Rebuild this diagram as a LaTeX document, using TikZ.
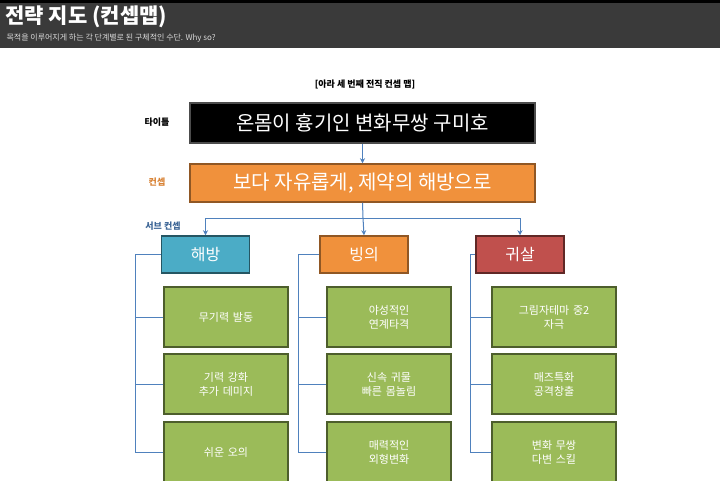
\documentclass[tikz,border=0pt]{standalone}
\usepackage{fontspec}
\setmainfont{Noto Sans CJK KR}
\usetikzlibrary{arrows.meta,positioning}
\definecolor{hdr}{HTML}{3A3A3A}
\definecolor{lnk}{HTML}{4F81BD}
\definecolor{org}{HTML}{F0913C}
\definecolor{grn}{HTML}{9BBB59}
\definecolor{sky}{HTML}{4BACC6}
\definecolor{rd}{HTML}{C0504D}
\tikzset{
  box/.style={draw, line width=1.5pt, text=white, inner sep=0pt},
  leaf/.style={box, fill=grn, draw=grn!50!black, text width=124pt, align=center, font=\fontsize{11}{14}\selectfont},
  sub/.style={box, minimum width=88pt, minimum height=37pt, font=\fontsize{16}{18}\selectfont},
  link/.style={lnk, line width=1pt},
  tip/.style={link, -{Stealth[length=5pt,width=5pt]}}
}
\begin{document}
\begin{tikzpicture}[x=1pt,y=-1pt]
\useasboundingbox (0,0) rectangle (720,480);
\clip (0,0) rectangle (720,480);
\fill[hdr] (0,0) rectangle (720,48);
\fill[black] (0,0) rectangle (720,3);
\node[anchor=west, text=white, font=\bfseries\fontsize{21}{22}\selectfont] (hd) at (2,17) {전략 지도 (컨셉맵)};
\node[anchor=west, text=white!85!black, font=\fontsize{8}{9}\selectfont] (shd) at (3,38) {목적을 이루어지게 하는 각 단계별로 된 구체적인 수단. Why so?};
\node[font=\bfseries\fontsize{9}{10}\selectfont] (cap) at (365,84) {[아라 세 번째 전직 컨셉 맵]};
% title and concept
\node[box, fill=black, draw=black!70, minimum width=345pt, minimum height=40pt, font=\fontsize{20}{22}\selectfont] (ttl) at (362.5,123) {온몸이 흉기인 변화무쌍 구미호};
\node[box, fill=org, draw=org!60!black, minimum width=345pt, minimum height=38pt, font=\fontsize{20}{22}\selectfont] (cpt) at (362.5,183) {보다 자유롭게, 제약의 해방으로};
\node[font=\bfseries\fontsize{9}{10}\selectfont] (lt) at (157,122) {타이틀};
\node[text=org!90!black, font=\bfseries\fontsize{9}{10}\selectfont] (lc) at (157,182) {컨셉};
\node[text=lnk!80!black, font=\bfseries\fontsize{9}{10}\selectfont] (ls) at (163,226) {서브 컨셉};
\draw[tip] (ttl) -- (cpt);
% sub concepts
\node[sub, fill=sky, draw=sky!50!black] (s1) at (205.5,254.5) {해방};
\node[sub, fill=org, draw=org!60!black] (s2) at (364,254.5) {빙의};
\node[sub, fill=rd, draw=rd!50!black] (s3) at (520,254.5) {귀살};
\coordinate (hub) at (363,218);
\draw[link] (cpt.south) -- (hub);
\draw[tip] (hub) -| (s1.north);
\draw[tip] (hub) -- (s2.north);
\draw[tip] (hub) -| (s3.north);
% leaves
\foreach \c/\x/\bx/\s/\ta/\tb/\tc in {1/226/135/s1/{무기력 발동}/{기력 강화\\추가 데미지}/{쉬운 오의},
  2/389/298/s2/{야성적인\\연계타격}/{신속 귀물\\빠른 몸놀림}/{매력적인\\외형변화},
  3/554/470/s3/{그림자테마 중2\\자극}/{매즈특화\\공격창출}/{변화 무쌍\\다변 스킬}}{
  \node[leaf, minimum height=60pt] (a\c) at (\x,317) {\ta};
  \node[leaf, minimum height=60pt] (b\c) at (\x,384) {\tb};
  \node[leaf, minimum height=60pt] (c\c) at (\x,452) {\tc};
  \coordinate (k\c) at (\bx,254.5);
  \draw[link] (\s.west) -- (k\c) |- (c\c.west);
  \draw[link] (k\c |- a\c) -- (a\c.west);
  \draw[link] (k\c |- b\c) -- (b\c.west);
}
\end{tikzpicture}
\end{document}
